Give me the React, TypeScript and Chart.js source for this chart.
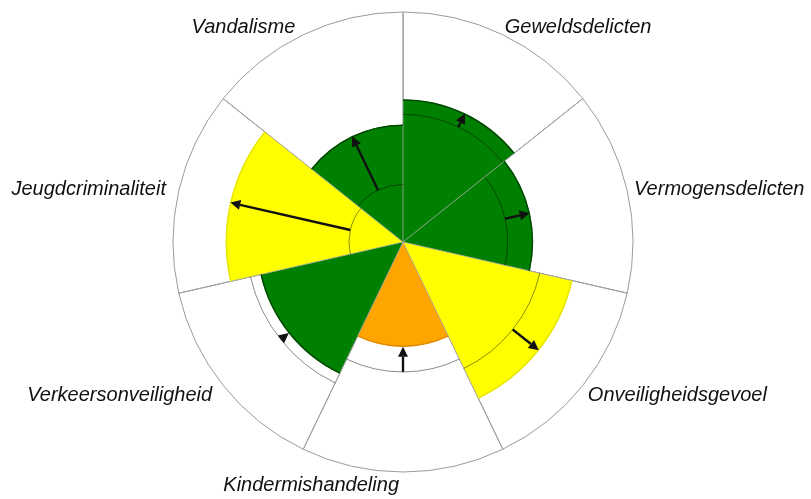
import React, { useEffect, useRef } from "react";
import { Chart, registerables } from "chart.js";

Chart.register(...registerables);

const categories = [
  "Geweldsdelicten",
  "Vermogensdelicten",
  "Onveiligheidsgevoel",
  "Kindermishandeling",
  "Verkeersonveiligheid",
  "Jeugdcriminaliteit",
  "Vandalisme",
];
const currentValues = [62, 56.5, 75.5, 45.5, 63.5, 77, 51];
const previousValues = [55.5, 45.5, 61, 56.5, 68, 23.5, 25];
const statuses = ["good", "good", "warning", "bad", "good", "warning", "good"];
const maxValues = [100, 100, 100, 100, 100, 100, 100];

const fillByStatus: Record<string, string> = {
  good: "#008000",
  warning: "#ffff00",
  bad: "#ffa500",
};
const borderByStatus: Record<string, string> = {
  good: "#004a00",
  warning: "#e6e600",
  bad: "#e08a00",
};

const overlayPlugin = {
  id: "overlay",
  afterDraw(chart: any) {
    const ctx = chart.ctx as CanvasRenderingContext2D;
    const scale = chart.scales.r;
    const meta = chart.getDatasetMeta(0);
    const cx = scale.xCenter;
    const cy = scale.yCenter;
    ctx.save();
    meta.data.forEach((arc: any, i: number) => {
      const { startAngle, endAngle, outerRadius } = arc.getProps(
        ["startAngle", "endAngle", "outerRadius"],
        true
      );
      const mid = (startAngle + endAngle) / 2;

      // outer edge of the coloured sector
      ctx.beginPath();
      ctx.arc(cx, cy, outerRadius - 0.5, startAngle, endAngle);
      ctx.strokeStyle = borderByStatus[statuses[i]];
      ctx.lineWidth = 1.5;
      ctx.stroke();

      // previous value arc
      const rp = scale.getDistanceFromCenterForValue(previousValues[i]);
      ctx.beginPath();
      ctx.arc(cx, cy, rp, startAngle, endAngle);
      ctx.strokeStyle = "rgba(0,0,0,0.45)";
      ctx.lineWidth = 1;
      ctx.stroke();

      // arrow from previous to current
      const r0 = rp;
      const r1 = scale.getDistanceFromCenterForValue(currentValues[i]);
      const dx = Math.cos(mid);
      const dy = Math.sin(mid);
      const dir = r1 >= r0 ? 1 : -1;
      const headLen = 10;
      const headW = 5;
      const x0 = cx + dx * r0;
      const y0 = cy + dy * r0;
      const x1 = cx + dx * r1;
      const y1 = cy + dy * r1;
      const bx = x1 - dx * dir * headLen;
      const by = y1 - dy * dir * headLen;
      ctx.strokeStyle = "#111";
      ctx.fillStyle = "#111";
      ctx.lineWidth = 2.4;
      if (Math.abs(r1 - r0) > headLen) {
        ctx.beginPath();
        ctx.moveTo(x0, y0);
        ctx.lineTo(bx, by);
        ctx.stroke();
      }
      ctx.beginPath();
      ctx.moveTo(x1, y1);
      ctx.lineTo(bx - dy * headW, by + dx * headW);
      ctx.lineTo(bx + dy * headW, by - dx * headW);
      ctx.closePath();
      ctx.fill();

      // category label
      const lr = scale.drawingArea + 9;
      const isRight = dx > 1e-6;
      ctx.font = "italic 20px 'Liberation Sans', Arial, sans-serif";
      ctx.fillStyle = "#111";
      ctx.textBaseline = "middle";
      ctx.textAlign = isRight ? "left" : "right";
      ctx.fillText(
        categories[i],
        cx + dx * lr + (isRight ? -2 : -4),
        cy + dy * lr + (dy > 0 ? 4 : 1)
      );
    });
    ctx.restore();
  },
};

export default function App() {
  const canvasRef = useRef<HTMLCanvasElement | null>(null);

  useEffect(() => {
    if (!canvasRef.current) return;
    const chart = new Chart(canvasRef.current, {
      type: "polarArea",
      data: {
        labels: categories,
        datasets: [
          {
            label: "Huidig",
            data: currentValues,
            backgroundColor: statuses.map((s) => fillByStatus[s]),
            borderWidth: 0,
          },
          {
            label: "Maximum",
            data: maxValues,
            backgroundColor: "#ffffff",
            borderColor: "#9a9a9a",
            borderWidth: 1,
          },
        ],
      },
      options: {
        responsive: true,
        maintainAspectRatio: false,
        animation: false,
        layout: { padding: { top: 12, bottom: 27, left: 0, right: 5 } },
        plugins: {
          legend: { display: false },
          tooltip: { enabled: false },
        },
        scales: {
          r: {
            min: 0,
            max: 100,
            ticks: { display: false },
            grid: { display: false, z: 1 },
            angleLines: { display: true, color: "rgba(165,165,165,0.8)", lineWidth: 1 },
            pointLabels: { display: false },
          },
        },
      },
      plugins: [overlayPlugin],
    });
    return () => chart.destroy();
  }, []);

  return (
    <div style={{ position: "fixed", left: 0, top: 0, width: 811, height: 499 }}>
      <canvas ref={canvasRef} />
    </div>
  );
}
